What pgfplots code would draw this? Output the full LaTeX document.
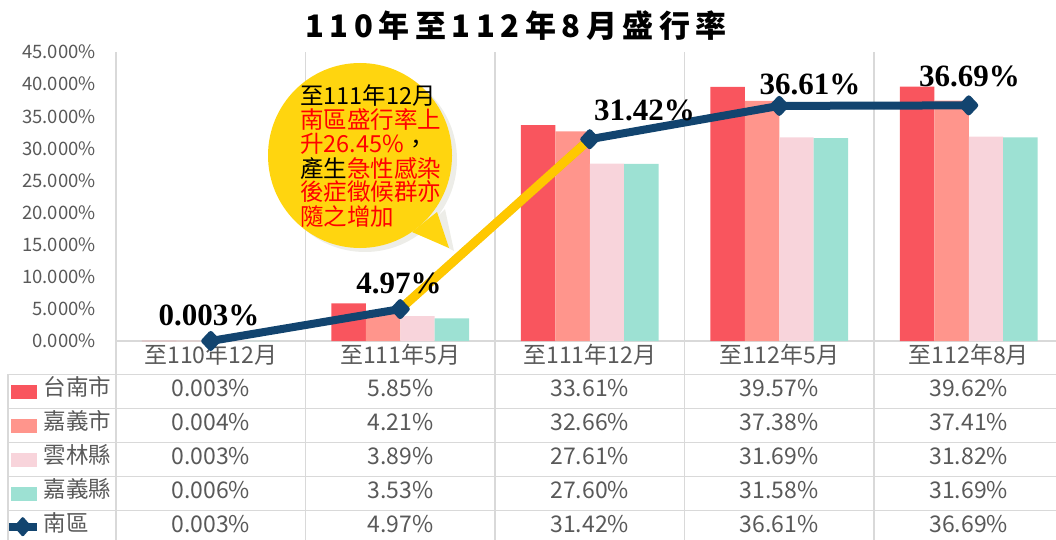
\documentclass[border=0pt]{standalone}
\usepackage{fontspec}
\usepackage{pgfplots}
\pgfplotsset{compat=1.18}
\setmainfont{Noto Sans CJK TC}
\newfontfamily\titlefont{Noto Sans CJK TC}[LetterSpace=18]
\newfontfamily\serifb{Liberation Serif}
\definecolor{c1}{HTML}{F9555E}
\definecolor{c2}{HTML}{FF958C}
\definecolor{c3}{HTML}{F8D4DB}
\definecolor{c4}{HTML}{9DE1D3}
\definecolor{navy}{HTML}{12446F}
\definecolor{lineyellow}{HTML}{FFC800}
\definecolor{bubble}{HTML}{FFD50F}
\definecolor{shadowc}{HTML}{EDEDE8}
\definecolor{gridc}{HTML}{D9D9D9}
\definecolor{textgray}{HTML}{595959}
\definecolor{redtxt}{HTML}{FF0000}
\begin{document}
\begin{tikzpicture}
\begin{axis}[
  at={(116pt,198pt)}, anchor=south west,
  scale only axis, width=947.5pt, height=289pt,
  xmin=-0.5, xmax=4.5, ymin=0, ymax=45,
  axis lines=left, axis line style={-},
  x axis line style={draw=gridc, line width=1.5pt},
  y axis line style={draw=none},
  xtick={0,1,2,3,4},
  xticklabels={至110年12月,至111年5月,至111年12月,至112年5月,至112年8月},
  ytick={0,5,10,15,20,25,30,35,40,45},
  yticklabels={0.000\%,5.000\%,10.000\%,15.000\%,20.000\%,25.000\%,30.000\%,35.000\%,40.000\%,45.000\%},
  major tick length=0pt, minor tick length=0pt,
  minor xtick={-0.5,0.5,1.5,2.5,3.5,4.5},
  xminorgrids, minor x grid style={gridc, line width=1.5pt},
  tick label style={text=textgray},
  yticklabel style={font=\fontsize{18.5pt}{20pt}\selectfont, anchor=east, inner sep=0pt, xshift=-20pt},
  xticklabel style={font=\fontsize{23pt}{25pt}\selectfont, anchor=base, inner sep=0pt, yshift=-22.5pt},
  clip=false,
  legend style={at={(-0.1195,-0.11522)}, anchor=north west, draw=none, fill=none,
    inner sep=0pt, outer sep=0pt, row sep=0pt, column sep=3pt,
    nodes={inner sep=0pt, outer sep=0pt, text height=21.2pt, text depth=12.85pt,
      anchor=base west, text=textgray, font=\fontsize{22.5pt}{25pt}\selectfont}},
]
\addplot[ybar, bar width=34.4pt, bar shift=-51.6pt, fill=c1, draw=none,
  legend image code/.code={\fill[c1] (0pt,-3.5pt) rectangle (26pt,10.5pt);}]
  coordinates {(0,0.003) (1,5.85) (2,33.61) (3,39.57) (4,39.62)};
\addlegendentry{台南市}
\addplot[ybar, bar width=34.4pt, bar shift=-17.2pt, fill=c2, draw=none,
  legend image code/.code={\fill[c2] (0pt,-3.5pt) rectangle (26pt,10.5pt);}]
  coordinates {(0,0.004) (1,4.21) (2,32.66) (3,37.38) (4,37.41)};
\addlegendentry{嘉義市}
\addplot[ybar, bar width=34.4pt, bar shift=17.2pt, fill=c3, draw=none,
  legend image code/.code={\fill[c3] (0pt,-3.5pt) rectangle (26pt,10.5pt);}]
  coordinates {(0,0.003) (1,3.89) (2,27.61) (3,31.69) (4,31.82)};
\addlegendentry{雲林縣}
\addplot[ybar, bar width=34.4pt, bar shift=51.6pt, fill=c4, draw=none,
  legend image code/.code={\fill[c4] (0pt,-3.5pt) rectangle (26pt,10.5pt);}]
  coordinates {(0,0.006) (1,3.53) (2,27.60) (3,31.58) (4,31.69)};
\addlegendentry{嘉義縣}
\addplot[navy, line width=8pt, line join=round, forget plot]
  coordinates {(0,0.003) (1,4.97) (2,31.42) (3,36.61) (4,36.69)};
\addplot[lineyellow, line width=9pt, forget plot]
  coordinates {(1,4.97) (2,31.42)};
\addplot[only marks, mark=diamond*, mark size=7.5pt, navy,
  mark options={line width=5pt, line join=round, xscale=1.25, fill=navy, draw=navy}, forget plot]
  coordinates {(0,0.003) (1,4.97) (2,31.42) (3,36.61) (4,36.69)};
\addlegendimage{legend image code/.code={\draw[navy,line width=8pt] (-4pt,5pt)--(26pt,5pt);
  \fill[navy,draw=navy,line width=3pt,line join=round] (12pt,-3pt)--(19pt,5pt)--(12pt,13pt)--(5pt,5pt)--cycle;}}
\addlegendentry{南區}
\end{axis}
\begin{scope}[shift={(0pt,539pt)}, x=1pt, y=-1pt]
  % table grid
  \foreach \yy in {374.3,408.35,442.4,476.45,510.5}
    \draw[gridc, line width=1.5pt] (8,\yy) -- (1064,\yy);
  \draw[gridc, line width=1.5pt] (8,374.3) -- (8,545);
  \foreach \xx in {116,305.5,495,684.5,874,1063.5}
    \draw[gridc, line width=1.5pt] (\xx,341) -- (\xx,545);
  % table values
  \begin{scope}[every node/.style={anchor=base, inner sep=0pt, text=textgray, font=\fontsize{23pt}{25pt}\selectfont}]
    \node at (210.75,396) {0.003\%};
    \node at (400.25,396) {5.85\%};
    \node at (589.75,396) {33.61\%};
    \node at (779.25,396) {39.57\%};
    \node at (968.75,396) {39.62\%};
    \node at (210.75,430.05) {0.004\%};
    \node at (400.25,430.05) {4.21\%};
    \node at (589.75,430.05) {32.66\%};
    \node at (779.25,430.05) {37.38\%};
    \node at (968.75,430.05) {37.41\%};
    \node at (210.75,464.1) {0.003\%};
    \node at (400.25,464.1) {3.89\%};
    \node at (589.75,464.1) {27.61\%};
    \node at (779.25,464.1) {31.69\%};
    \node at (968.75,464.1) {31.82\%};
    \node at (210.75,498.15) {0.006\%};
    \node at (400.25,498.15) {3.53\%};
    \node at (589.75,498.15) {27.60\%};
    \node at (779.25,498.15) {31.58\%};
    \node at (968.75,498.15) {31.69\%};
    \node at (210.75,532.2) {0.003\%};
    \node at (400.25,532.2) {4.97\%};
    \node at (589.75,532.2) {31.42\%};
    \node at (779.25,532.2) {36.61\%};
    \node at (968.75,532.2) {36.69\%};
  \end{scope}
  % data labels
  \begin{scope}[every node/.style={anchor=base, inner sep=0pt, font=\serifb\bfseries\fontsize{31pt}{33pt}\selectfont}]
    \node at (209,325) {0.003\%};
    \node at (399,293) {4.97\%};
    \node at (644.5,120.5) {31.42\%};
    \node at (810,95) {36.61\%};
    \node at (969.5,86.5) {36.69\%};
  \end{scope}
  % title
  \node[anchor=base, inner sep=0pt] at (516,38) {\titlefont\bfseries\fontsize{31pt}{33pt}\selectfont 110年至112年8月盛行率};
  % callout
  \fill[shadowc] (365,159.5) ellipse [x radius=92, y radius=92.5];
  \fill[shadowc] (420,234) -- (454,251) -- (445,209) -- cycle;
  \fill[bubble] (360,155.5) ellipse [x radius=92, y radius=92.5];
  \fill[bubble] (412,232) -- (449,248) -- (437,212) -- cycle;
  \begin{scope}[every node/.style={anchor=base west, inner sep=0pt, font=\fontsize{23.5pt}{24pt}\selectfont}]
    \node at (300,105) {至111年12月};
    \node[text=redtxt] at (300,129) {南區盛行率上};
    \node at (300,153) {\textcolor{redtxt}{升26.45\%}，};
    \node at (300,177) {產生\textcolor{redtxt}{急性感染}};
    \node[text=redtxt] at (300,201) {後症徵候群亦};
    \node[text=redtxt] at (300,225) {隨之增加};
  \end{scope}
\end{scope}
\pgfresetboundingbox
\path[use as bounding box] (0pt,0pt) rectangle (1056pt,539pt);
\end{tikzpicture}
\end{document}
